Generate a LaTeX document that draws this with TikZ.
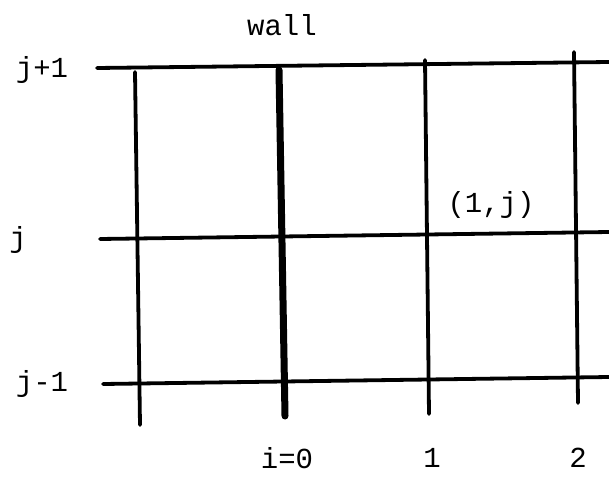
\documentclass[tikz,border=0pt]{standalone}
\usepackage{fontspec}
\setmonofont{Liberation Mono}
\usepackage{tikz}
\usetikzlibrary{positioning}

\begin{document}
\begin{tikzpicture}[x=1pt, y=-1pt, line cap=round, every node/.style={font=\ttfamily\fontsize{29}{32}\selectfont, inner sep=0pt}]
    \useasboundingbox (0,0) rectangle (609,476);
    \tikzset{gridline/.style={line width=3.8pt}, wallline/.style={line width=7pt}}

    % rows
    \draw [gridline] (97,68) -- (609,62);
    \draw [gridline] (100,239) -- (609,232);
    \draw [gridline] (103,384) -- (609,377);

    % columns
    \draw [gridline] (135,72) -- (140,425);
    \draw [wallline] (279,70) -- (285,416);
    \draw [gridline] (425,60) -- (429,414);
    \draw [gridline] (574,52) -- (578,403);

    \node (wall) at (282,25) {wall};
    \node (jp) at (42,70) {j+1};
    \node (j0) at (18,240) {j};
    \node (jm) at (42,384) {j-1};
    \node (pt) at (491,205) {(1,j)};
    \node (i0) at (287,458) {i=0};
    \node (i1) at (432,458) {1};
    \node (i2) at (578,458) {2};
\end{tikzpicture}
\end{document}
